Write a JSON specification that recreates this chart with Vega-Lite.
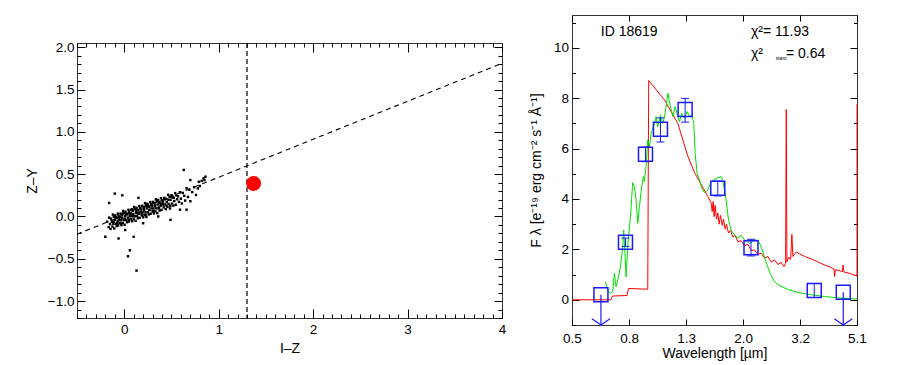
{
"$schema": "https://vega.github.io/schema/vega-lite/v6.json",
"background": "white",
"padding": {"left": 24, "top": 14, "right": 0, "bottom": 0},
"spacing": 21,
"config": {
 "view": {"stroke": "#333333", "strokeWidth": 1},
 "font": "Liberation Sans",
 "axis": {"domain": false, "grid": false, "tickColor": "black", "tickWidth": 1, "labelFont": "Liberation Sans", "labelFontSize": 13.5, "labelColor": "black", "titleFont": "Liberation Sans", "titleFontSize": 14, "titleFontWeight": "normal", "titleColor": "black", "labelOverlap": false, "labelFlush": false},
 "text": {"font": "Liberation Sans"}
},
"datasets": {
 "cloud": [
 {"iz":-0.18,"zy":-0.062},{"iz":-0.165,"zy":-0.126},{"iz":-0.16,"zy":-0.014},{"iz":-0.15,"zy":-0.09},{"iz":-0.145,"zy":-0.148},{"iz":-0.14,"zy":-0.026},{"iz":-0.13,"zy":-0.062},{"iz":-0.125,"zy":-0.12},{"iz":-0.12,"zy":0.022},{"iz":-0.115,"zy":-0.086},{"iz":-0.11,"zy":-0.004},{"iz":-0.105,"zy":-0.142},{"iz":-0.1,"zy":-0.04},{"iz":-0.095,"zy":0.012},{"iz":-0.09,"zy":-0.086},{"iz":-0.085,"zy":-0.014},{"iz":-0.08,"zy":-0.112},{"iz":-0.075,"zy":-0.02},{"iz":-0.07,"zy":-0.058},{"iz":-0.068,"zy":0.033},{"iz":-0.065,"zy":-0.106},{"iz":-0.06,"zy":0.006},{"iz":-0.055,"zy":-0.042},
 {"iz":-0.05,"zy":-0.01},{"iz":-0.047,"zy":-0.079},{"iz":-0.04,"zy":0.034},{"iz":-0.035,"zy":-0.044},{"iz":-0.03,"zy":-0.102},{"iz":-0.028,"zy":0.019},{"iz":-0.02,"zy":-0.018},{"iz":-0.015,"zy":-0.076},{"iz":-0.012,"zy":0.065},{"iz":-0.005,"zy":-0.042},{"iz":0,"zy":0.04},{"iz":0.004,"zy":-0.098},{"iz":0.01,"zy":0.004},{"iz":0.013,"zy":0.055},{"iz":0.02,"zy":-0.042},{"iz":0.025,"zy":0.03},{"iz":0.03,"zy":-0.068},{"iz":0.034,"zy":0.024},{"iz":0.04,"zy":-0.014},{"iz":0.045,"zy":0.078},{"iz":0.05,"zy":-0.06},{"iz":0.052,"zy":0.051},{"iz":0.06,"zy":0.004},
 {"iz":0.065,"zy":0.036},{"iz":0.07,"zy":-0.032},{"iz":0.075,"zy":0.08},{"iz":0.08,"zy":0.002},{"iz":0.084,"zy":-0.056},{"iz":0.09,"zy":0.066},{"iz":0.095,"zy":0.028},{"iz":0.1,"zy":-0.03},{"iz":0.105,"zy":0.112},{"iz":0.11,"zy":0.004},{"iz":0.113,"zy":0.085},{"iz":0.12,"zy":-0.052},{"iz":0.125,"zy":0.05},{"iz":0.13,"zy":0.102},{"iz":0.135,"zy":0.004},{"iz":0.14,"zy":0.076},{"iz":0.145,"zy":-0.022},{"iz":0.15,"zy":0.07},{"iz":0.155,"zy":0.032},{"iz":0.16,"zy":0.124},{"iz":0.163,"zy":-0.015},{"iz":0.17,"zy":0.098},{"iz":0.175,"zy":0.05},
 {"iz":0.18,"zy":0.082},{"iz":0.185,"zy":0.014},{"iz":0.19,"zy":0.126},{"iz":0.195,"zy":0.048},{"iz":0.2,"zy":-0.01},{"iz":0.205,"zy":0.112},{"iz":0.21,"zy":0.074},{"iz":0.215,"zy":0.016},{"iz":0.22,"zy":0.158},{"iz":0.225,"zy":0.05},{"iz":0.23,"zy":0.132},{"iz":0.235,"zy":-0.006},{"iz":0.24,"zy":0.096},{"iz":0.245,"zy":0.148},{"iz":0.25,"zy":0.05},{"iz":0.255,"zy":0.122},{"iz":0.26,"zy":0.024},{"iz":0.265,"zy":0.116},{"iz":0.27,"zy":0.078},{"iz":0.275,"zy":0.17},{"iz":0.28,"zy":0.032},{"iz":0.285,"zy":0.144},{"iz":0.29,"zy":0.096},
 {"iz":0.295,"zy":0.128},{"iz":0.3,"zy":0.06},{"iz":0.305,"zy":0.172},{"iz":0.31,"zy":0.094},{"iz":0.315,"zy":0.036},{"iz":0.32,"zy":0.158},{"iz":0.325,"zy":0.12},{"iz":0.33,"zy":0.062},{"iz":0.335,"zy":0.204},{"iz":0.34,"zy":0.096},{"iz":0.345,"zy":0.178},{"iz":0.35,"zy":0.04},{"iz":0.355,"zy":0.142},{"iz":0.36,"zy":0.194},{"iz":0.365,"zy":0.096},{"iz":0.37,"zy":0.168},{"iz":0.375,"zy":0.07},{"iz":0.38,"zy":0.162},{"iz":0.385,"zy":0.124},{"iz":0.39,"zy":0.216},{"iz":0.395,"zy":0.078},{"iz":0.4,"zy":0.19},{"iz":0.405,"zy":0.142},
 {"iz":0.41,"zy":0.174},{"iz":0.418,"zy":0.107},{"iz":0.425,"zy":0.22},{"iz":0.43,"zy":0.142},{"iz":0.44,"zy":0.086},{"iz":0.445,"zy":0.208},{"iz":0.45,"zy":0.17},{"iz":0.458,"zy":0.113},{"iz":0.465,"zy":0.256},{"iz":0.47,"zy":0.148},{"iz":0.48,"zy":0.232},{"iz":0.485,"zy":0.094},{"iz":0.49,"zy":0.196},{"iz":0.5,"zy":0.25},{"iz":0.505,"zy":0.152},{"iz":0.51,"zy":0.224},{"iz":0.52,"zy":0.128},{"iz":0.525,"zy":0.22},{"iz":0.53,"zy":0.182},{"iz":0.54,"zy":0.276},{"iz":0.545,"zy":0.138},{"iz":0.55,"zy":0.25},{"iz":0.56,"zy":0.204},
 {"iz":0.57,"zy":0.238},{"iz":0.58,"zy":0.172},{"iz":0.59,"zy":0.286},{"iz":0.6,"zy":0.21},{"iz":0.61,"zy":0.154},{"iz":0.62,"zy":0.278},{"iz":0.635,"zy":0.244},{"iz":0.645,"zy":0.188},{"iz":0.66,"zy":0.334},{"iz":0.675,"zy":0.23},{"iz":0.69,"zy":0.316},{"iz":0.7,"zy":0.18},{"iz":0.72,"zy":0.288},{"iz":0.74,"zy":0.346},{"iz":0.76,"zy":0.254},{"iz":0.78,"zy":0.332},{"iz":0.8,"zy":0.36},{"iz":0.82,"zy":0.42},{"iz":0.84,"zy":0.45},
 {"iz":-0.113,"zy":-0.065},{"iz":-0.093,"zy":-0.007},{"iz":-0.073,"zy":-0.079},{"iz":-0.053,"zy":-0.011},{"iz":-0.033,"zy":-0.083},{"iz":-0.013,"zy":0.035},{"iz":0.007,"zy":-0.027},{"iz":0.027,"zy":0.031},{"iz":0.047,"zy":-0.041},{"iz":0.067,"zy":0.027},{"iz":0.087,"zy":0.085},{"iz":0.107,"zy":0.003},{"iz":0.127,"zy":0.041},{"iz":0.147,"zy":0.039},{"iz":0.167,"zy":0.097},{"iz":0.187,"zy":0.025},{"iz":0.207,"zy":0.093},{"iz":0.227,"zy":0.021},{"iz":0.247,"zy":0.139},{"iz":0.267,"zy":0.077},{"iz":0.287,"zy":0.135},{"iz":0.307,"zy":0.063},{"iz":0.327,"zy":0.131},{"iz":0.347,"zy":0.189},{"iz":0.367,"zy":0.107},{"iz":0.387,"zy":0.145},{"iz":0.407,"zy":0.143},{"iz":0.427,"zy":0.201},{"iz":0.447,"zy":0.129},{"iz":0.467,"zy":0.197},{"iz":0.487,"zy":0.125},{"iz":0.507,"zy":0.243},
 {"iz":0.63,"zy":0.55},{"iz":0.04,"zy":-0.47},{"iz":0.06,"zy":-0.4},{"iz":0.13,"zy":-0.64},{"iz":-0.1,"zy":0.27},{"iz":-0.02,"zy":0.25},{"iz":-0.16,"zy":0.16},{"iz":-0.2,"zy":-0.24},{"iz":-0.06,"zy":-0.26},{"iz":0.7,"zy":0.43},{"iz":0.79,"zy":0.41},{"iz":0.86,"zy":0.47},{"iz":0.85,"zy":0.43},{"iz":0.66,"zy":0.08},{"iz":0.59,"zy":0.08},{"iz":0.49,"zy":-0.04},{"iz":0.36,"zy":0.0},{"iz":0.2,"zy":-0.08},{"iz":0.1,"zy":-0.24},{"iz":0.01,"zy":-0.16},{"iz":0.15,"zy":0.22}
 ],
 "red": [
 {"wl":0.5,"f":0},{"wl":0.687,"f":0},{"wl":0.695,"f":0.15},{"wl":0.783,"f":0.17},{"wl":0.792,"f":0.45},{"wl":0.927,"f":0.42},{"wl":0.934,"f":8.7},{"wl":1.062,"f":7.93},{"wl":1.184,"f":7.0},{"wl":1.285,"f":5.7},{"wl":1.357,"f":5.05},{"wl":1.512,"f":4.1},{"wl":1.554,"f":3.85},{"wl":1.567,"f":3.5},{"wl":1.579,"f":3.9},{"wl":1.592,"f":3.3},{"wl":1.605,"f":3.75},{"wl":1.623,"f":3.2},{"wl":1.641,"f":3.45},{"wl":1.659,"f":3.0},{"wl":1.677,"f":3.35},{"wl":1.7,"f":2.95},{"wl":1.719,"f":3.2},{"wl":1.742,"f":2.8},{"wl":1.761,"f":3.0},{"wl":1.79,"f":2.65},{"wl":1.819,"f":2.75},{"wl":1.854,"f":2.5},{"wl":1.89,"f":2.55},{"wl":1.932,"f":2.3},{"wl":1.985,"f":2.35},{"wl":2.04,"f":2.15},{"wl":2.096,"f":2.2},{"wl":2.154,"f":1.95},{"wl":2.213,"f":1.98},{"wl":2.274,"f":1.8},{"wl":2.336,"f":1.85},{"wl":2.401,"f":1.65},{"wl":2.467,"f":1.72},{"wl":2.535,"f":1.5},{"wl":2.605,"f":1.58},{"wl":2.677,"f":1.4},{"wl":2.751,"f":1.48},{"wl":2.811,"f":1.32},{"wl":2.85,"f":1.45},{"wl":2.866,"f":7.55},{"wl":2.881,"f":1.5},{"wl":2.92,"f":1.7},{"wl":2.969,"f":1.6},{"wl":3.0,"f":2.6},{"wl":3.025,"f":1.72},{"wl":3.109,"f":1.9},{"wl":3.194,"f":1.82},{"wl":3.328,"f":1.72},{"wl":3.514,"f":1.62},{"wl":3.71,"f":1.5},{"wl":3.917,"f":1.38},{"wl":4.136,"f":1.28},{"wl":4.227,"f":1.22},{"wl":4.25,"f":0.92},{"wl":4.274,"f":1.2},{"wl":4.428,"f":1.15},{"wl":4.53,"f":1.12},{"wl":4.55,"f":1.38},{"wl":4.587,"f":1.1},{"wl":4.803,"f":1.05},{"wl":5.1,"f":0.94},{"wl":5.1,"f":7.76}
 ],
 "green": [
 {"wl":0.656,"f":0.72},{"wl":0.669,"f":0.38},{"wl":0.684,"f":0.25},{"wl":0.697,"f":0.32},{"wl":0.706,"f":1.05},{"wl":0.716,"f":0.52},{"wl":0.726,"f":0.78},{"wl":0.742,"f":1.31},{"wl":0.756,"f":2.11},{"wl":0.762,"f":2.77},{"wl":0.77,"f":1.84},{"wl":0.777,"f":0.91},{"wl":0.787,"f":2.11},{"wl":0.805,"f":3.3},{"wl":0.82,"f":4.65},{"wl":0.831,"f":4.49},{"wl":0.843,"f":3.96},{"wl":0.855,"f":3.03},{"wl":0.866,"f":3.7},{"wl":0.883,"f":4.49},{"wl":0.895,"f":4.89},{"wl":0.902,"f":4.69},{"wl":0.914,"f":5.28},{"wl":0.927,"f":6.34},{"wl":0.94,"f":6.08},{"wl":0.953,"f":6.61},{"wl":0.979,"f":7.0},{"wl":0.992,"f":7.27},{"wl":1.006,"f":6.87},{"wl":1.028,"f":7.34},{"wl":1.048,"f":7.0},{"wl":1.068,"f":7.4},{"wl":1.092,"f":8.2},{"wl":1.115,"f":7.67},{"wl":1.137,"f":7.27},{"wl":1.159,"f":7.67},{"wl":1.184,"f":7.27},{"wl":1.2,"f":7.07},{"wl":1.223,"f":7.4},{"wl":1.25,"f":7.2},{"wl":1.278,"f":7.47},{"wl":1.302,"f":7.27},{"wl":1.327,"f":7.34},{"wl":1.349,"f":7.0},{"wl":1.364,"f":5.81},{"wl":1.386,"f":5.02},{"wl":1.413,"f":4.75},{"wl":1.44,"f":4.42},{"wl":1.472,"f":4.25},{"wl":1.512,"f":4.36},{"wl":1.554,"f":4.69},{"wl":1.619,"f":4.82},{"wl":1.686,"f":4.89},{"wl":1.709,"f":4.75},{"wl":1.756,"f":3.96},{"wl":1.79,"f":3.17},{"wl":1.829,"f":2.77},{"wl":1.88,"f":2.57},{"wl":1.932,"f":2.44},{"wl":1.985,"f":2.57},{"wl":2.04,"f":2.37},{"wl":2.125,"f":2.24},{"wl":2.213,"f":2.37},{"wl":2.274,"f":2.37},{"wl":2.336,"f":2.1},{"wl":2.414,"f":1.6},{"wl":2.502,"f":1.1},{"wl":2.591,"f":0.75},{"wl":2.677,"f":0.6},{"wl":2.905,"f":0.41},{"wl":3.151,"f":0.29},{"wl":3.514,"f":0.2},{"wl":3.917,"f":0.13},{"wl":4.368,"f":0.08},{"wl":4.739,"f":0.05},{"wl":5.1,"f":0.03}
 ],
 "phot": [
 {"wl":0.633,"f":0.2,"lim":true},
 {"wl":0.773,"f":2.28,"lo":2.12,"hi":2.45,"lim":false},
 {"wl":0.91,"f":5.77,"lo":5.48,"hi":6.06,"lim":false},
 {"wl":1.028,"f":6.77,"lo":6.26,"hi":7.22,"lim":false},
 {"wl":1.257,"f":7.55,"lo":7.05,"hi":7.99,"lim":false},
 {"wl":1.64,"f":4.43,"lo":4.12,"hi":4.71,"lim":false},
 {"wl":2.15,"f":2.07,"lo":1.74,"hi":2.4,"lim":false},
 {"wl":3.6,"f":0.37,"lo":0.09,"hi":0.65,"lim":false},
 {"wl":4.56,"f":0.3,"lim":true}
 ]
},
"hconcat": [
 {
  "spacing": 0,
  "vconcat": [
   {
    "width": 425, "height": 24,
    "view": {"stroke": null},
    "data": {"values": []},
    "mark": {"type": "point", "opacity": 0},
    "encoding": {}
   },
   {
    "width": 425, "height": 275,
    "layer": [
     {
      "data": {"name": "cloud"},
      "mark": {"type": "square", "size": 6, "color": "black", "opacity": 1},
      "encoding": {
       "x": {"field": "iz", "type": "quantitative", "scale": {"domain": [-0.5, 4], "nice": false, "zero": false},
        "axis": {"orient": "bottom", "values": [-0.5,-0.4,-0.3,-0.2,-0.1,0,0.1,0.2,0.3,0.4,0.5,0.6,0.7,0.8,0.9,1,1.1,1.2,1.3,1.4,1.5,1.6,1.7,1.8,1.9,2,2.1,2.2,2.3,2.4,2.5,2.6,2.7,2.8,2.9,3,3.1,3.2,3.3,3.4,3.5,3.6,3.7,3.8,3.9,4],
         "tickSize": {"condition": {"test": "abs(datum.value - round(datum.value)) < 0.001", "value": -9}, "value": -4},
         "labelExpr": "abs(datum.value - round(datum.value)) < 0.001 ? format(datum.value, 'd') : ''",
         "labelPadding": 13, "title": "I–Z", "titlePadding": 1}},
       "y": {"field": "zy", "type": "quantitative", "scale": {"domain": [-1.2, 2.05], "nice": false, "zero": false},
        "axis": {"orient": "left", "values": [-1.2,-1.1,-1,-0.9,-0.8,-0.7,-0.6,-0.5,-0.4,-0.3,-0.2,-0.1,0,0.1,0.2,0.3,0.4,0.5,0.6,0.7,0.8,0.9,1,1.1,1.2,1.3,1.4,1.5,1.6,1.7,1.8,1.9,2],
         "tickSize": {"condition": {"test": "abs(datum.value*2 - round(datum.value*2)) < 0.001", "value": -8}, "value": -4},
         "labelExpr": "abs(datum.value*2 - round(datum.value*2)) < 0.001 ? format(datum.value, '.1f') : ''",
         "labelPadding": 11, "title": "Z–Y", "titlePadding": 8}}
      }
     },
     {
      "data": {"values": [{"iz": -0.5, "zy": -0.21}, {"iz": 4, "zy": 1.81}]},
      "mark": {"type": "line", "color": "black", "strokeWidth": 1.1, "strokeDash": [5, 4]},
      "encoding": {
       "x": {"field": "iz", "type": "quantitative",
        "axis": {"orient": "top", "values": [-0.5,-0.4,-0.3,-0.2,-0.1,0,0.1,0.2,0.3,0.4,0.5,0.6,0.7,0.8,0.9,1,1.1,1.2,1.3,1.4,1.5,1.6,1.7,1.8,1.9,2,2.1,2.2,2.3,2.4,2.5,2.6,2.7,2.8,2.9,3,3.1,3.2,3.3,3.4,3.5,3.6,3.7,3.8,3.9,4],
         "tickSize": {"condition": {"test": "abs(datum.value - round(datum.value)) < 0.001", "value": -9}, "value": -4},
         "labels": false, "title": null}},
       "y": {"field": "zy", "type": "quantitative",
        "axis": {"orient": "right", "values": [-1.2,-1.1,-1,-0.9,-0.8,-0.7,-0.6,-0.5,-0.4,-0.3,-0.2,-0.1,0,0.1,0.2,0.3,0.4,0.5,0.6,0.7,0.8,0.9,1,1.1,1.2,1.3,1.4,1.5,1.6,1.7,1.8,1.9,2],
         "tickSize": {"condition": {"test": "abs(datum.value*2 - round(datum.value*2)) < 0.001", "value": -8}, "value": -4},
         "labels": false, "title": null}}
      }
     },
     {
      "data": {"values": [{"iz": 1.3}]},
      "mark": {"type": "rule", "color": "black", "strokeWidth": 1.2, "strokeDash": [5, 3]},
      "encoding": {"x": {"field": "iz", "type": "quantitative", "axis": null}}
     },
     {
      "data": {"values": [{"iz": 1.37, "zy": 0.39}]},
      "mark": {"type": "circle", "size": 220, "color": "#ff0000", "opacity": 1},
      "encoding": {
       "x": {"field": "iz", "type": "quantitative", "axis": null},
       "y": {"field": "zy", "type": "quantitative", "axis": null}
      }
     }
    ],
    "resolve": {"axis": {"x": "independent", "y": "independent"}}
   }
  ]
 },
 {
  "width": 285, "height": 310,
  "layer": [
   {
    "data": {"name": "red"},
    "mark": {"type": "line", "color": "#ff0000", "strokeWidth": 1},
    "encoding": {
     "x": {"field": "wl", "type": "quantitative", "scale": {"type": "log", "domain": [0.5, 5.1], "nice": false},
      "axis": {"orient": "bottom", "values": [0.5, 0.796, 1.267, 2.017, 3.21, 5.1], "format": ".1f", "tickSize": -6, "labelPadding": 12, "title": "Wavelength [µm]", "titlePadding": 2}},
     "y": {"field": "f", "type": "quantitative", "scale": {"domain": [-1, 11.3], "nice": false, "zero": false},
      "axis": {"orient": "left", "values": [-1,0,1,2,3,4,5,6,7,8,9,10,11],
       "tickSize": {"condition": {"test": "datum.value % 2 === 0", "value": -7}, "value": -3.5},
       "labelExpr": "datum.value % 2 === 0 && datum.value >= 0 ? format(datum.value, 'd') : ''",
       "labelPadding": 10.5, "title": "F  λ  [e⁻¹⁹ erg cm⁻² s⁻¹ Å⁻¹]", "titlePadding": 10}},
     "order": {"value": null}
    }
   },
   {
    "data": {"name": "green"},
    "mark": {"type": "line", "color": "#00e000", "strokeWidth": 1},
    "encoding": {
     "x": {"field": "wl", "type": "quantitative",
      "axis": {"orient": "top", "values": [0.5, 0.796, 1.267, 2.017, 3.21, 5.1], "tickSize": -6, "labels": false, "title": null}},
     "y": {"field": "f", "type": "quantitative",
      "axis": {"orient": "right", "values": [-1,0,1,2,3,4,5,6,7,8,9,10,11],
       "tickSize": {"condition": {"test": "datum.value % 2 === 0", "value": -7}, "value": -3.5},
       "labels": false, "title": null}}
    }
   },
   {
    "data": {"name": "phot"},
    "transform": [{"filter": "!datum.lim"}],
    "mark": {"type": "rule", "color": "#1a1aff", "strokeWidth": 1},
    "encoding": {
     "x": {"field": "wl", "type": "quantitative", "axis": null},
     "y": {"field": "lo", "type": "quantitative", "axis": null},
     "y2": {"field": "hi"}
    }
   },
   {
    "data": {"name": "phot"},
    "transform": [{"filter": "!datum.lim"}],
    "mark": {"type": "tick", "orient": "horizontal", "color": "#1a1aff", "size": 8, "thickness": 1, "opacity": 1},
    "encoding": {
     "x": {"field": "wl", "type": "quantitative", "axis": null},
     "y": {"field": "lo", "type": "quantitative", "axis": null}
    }
   },
   {
    "data": {"name": "phot"},
    "transform": [{"filter": "!datum.lim"}],
    "mark": {"type": "tick", "orient": "horizontal", "color": "#1a1aff", "size": 8, "thickness": 1, "opacity": 1},
    "encoding": {
     "x": {"field": "wl", "type": "quantitative", "axis": null},
     "y": {"field": "hi", "type": "quantitative", "axis": null}
    }
   },
   {
    "data": {"name": "phot"},
    "transform": [{"filter": "datum.lim"}],
    "mark": {"type": "rule", "color": "#1a1aff", "strokeWidth": 1.2},
    "encoding": {
     "x": {"field": "wl", "type": "quantitative", "axis": null},
     "y": {"field": "f", "type": "quantitative", "axis": null},
     "y2": {"datum": -1}
    }
   },
   {
    "data": {"name": "phot"},
    "transform": [{"filter": "datum.lim"}],
    "mark": {"type": "point", "shape": "M-1,-0.35L0,0.35L1,-0.35", "filled": false, "color": "#1a1aff", "strokeWidth": 1.2, "size": 324, "opacity": 1},
    "encoding": {
     "x": {"field": "wl", "type": "quantitative", "axis": null},
     "y": {"datum": -0.875, "type": "quantitative", "axis": null}
    }
   },
   {
    "data": {"name": "phot"},
    "mark": {"type": "point", "shape": "square", "filled": false, "color": "#1a1aff", "strokeWidth": 1.5, "size": 196, "opacity": 1},
    "encoding": {
     "x": {"field": "wl", "type": "quantitative", "axis": null},
     "y": {"field": "f", "type": "quantitative", "axis": null}
    }
   },
   {
    "data": {"values": [{"wl": 0.632, "f": 10.63, "t": "ID 18619"}, {"wl": 2.15, "f": 10.63, "t": "χ²= 11.93"}, {"wl": 2.15, "f": 9.75, "t": "χ²"}, {"wl": 2.86, "f": 9.75, "t": "=  0.64"}]},
    "mark": {"type": "text", "align": "left", "baseline": "middle", "fontSize": 14, "color": "black"},
    "encoding": {
     "x": {"field": "wl", "type": "quantitative", "axis": null},
     "y": {"field": "f", "type": "quantitative", "axis": null},
     "text": {"field": "t"}
    }
   },
   {
    "data": {"values": [{"wl": 2.63, "f": 9.6, "t": "stars"}]},
    "mark": {"type": "text", "align": "left", "baseline": "middle", "fontSize": 5, "color": "black"},
    "encoding": {
     "x": {"field": "wl", "type": "quantitative", "axis": null},
     "y": {"field": "f", "type": "quantitative", "axis": null},
     "text": {"field": "t"}
    }
   }
  ],
  "resolve": {"axis": {"x": "independent", "y": "independent"}}
 }
]
}
